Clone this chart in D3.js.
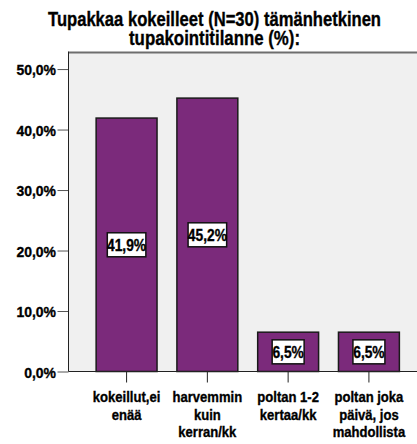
<!DOCTYPE html>
<html>
<head>
<meta charset="utf-8">
<script src="https://cdn.jsdelivr.net/npm/d3@7"></script>
<style>
html,body{margin:0;padding:0;background:#fff;}
svg{display:block;}
text{font-family:"Liberation Sans",Arial,sans-serif;font-weight:bold;fill:#000;stroke:#000;stroke-width:0.35px;}
</style>
</head>
<body>
<svg id="chart" width="417" height="444"></svg>
<script>
const titleLines = ["Tupakkaa kokeilleet (N=30) tämänhetkinen", "tupakointitilanne (%):"];
const categories = ["kokeillut,ei enää", "harvemmin kuin kerran/kk", "poltan 1-2 kertaa/kk", "poltan joka päivä, jos mahdollista"];
const categoryLines = [["kokeillut,ei", "enää"], ["harvemmin", "kuin", "kerran/kk"], ["poltan 1-2", "kertaa/kk"], ["poltan joka", "päivä, jos", "mahdollista"]];
const values = [41.9, 45.2, 6.5, 6.5];
const valueLabels = ["41,9%", "45,2%", "6,5%", "6,5%"];
const yTicks = [0, 10, 20, 30, 40, 50];
const yTickLabels = ["0,0%", "10,0%", "20,0%", "30,0%", "40,0%", "50,0%"];

const svg = d3.select("#chart");
const pLeft = 68.5, pRight = 427, pTop = 52.5, pBottom = 371.5;
const barColor = "#7b2a7b";
const titleWidths = [333, 171];

function condense(sel, f) {
  sel.each(function () {
    const w = this.getComputedTextLength();
    d3.select(this).attr("textLength", w * f).attr("lengthAdjust", "spacingAndGlyphs");
  });
}

const x = d3.scaleBand().domain(categories).range([pLeft, pRight]).paddingInner(0.246).paddingOuter(0.342);
const y = d3.scaleLinear().domain([0, 52.74]).range([pBottom, pTop]);

// plot background
svg.append("rect").attr("x", pLeft).attr("y", pTop).attr("width", pRight - pLeft).attr("height", pBottom - pTop).attr("fill", "#f0f0f0");
svg.append("line").attr("x1", pLeft).attr("x2", pRight).attr("y1", pTop).attr("y2", pTop).attr("stroke", "#6e6e6e").attr("stroke-width", 2);

// title
svg.append("g").selectAll("text").data(titleLines).join("text")
  .attr("x", 214.5).attr("y", (d, i) => 25.5 + i * 19.5)
  .attr("text-anchor", "middle").attr("font-size", 19.5)
  .attr("textLength", (d, i) => titleWidths[i]).attr("lengthAdjust", "spacingAndGlyphs")
  .text(d => d);

// bars
svg.append("g").selectAll("rect").data(values).join("rect")
  .attr("x", (d, i) => x(categories[i]))
  .attr("y", d => y(d))
  .attr("width", x.bandwidth())
  .attr("height", d => y(0) - y(d))
  .attr("fill", barColor).attr("stroke", "#1a1a1a").attr("stroke-width", 1.5);

// y axis
const yAxis = svg.append("g").attr("transform", `translate(${pLeft},0)`)
  .call(d3.axisLeft(y).tickValues(yTicks).tickSize(11).tickPadding(1.5).tickFormat((d, i) => yTickLabels[i]));
yAxis.select(".domain").remove();
yAxis.selectAll(".tick line").attr("stroke", "#555");
yAxis.selectAll(".tick text").attr("font-size", 15.5).attr("fill", "#000").attr("dy", "0.36em");
yAxis.attr("font-family", null).attr("font-size", null);
condense(yAxis.selectAll(".tick text"), 0.9);
svg.append("line").attr("x1", pLeft).attr("x2", pLeft).attr("y1", pTop - 1).attr("y2", pBottom).attr("stroke", "#222").attr("stroke-width", 1);

// x axis
const xAxis = svg.append("g").attr("transform", `translate(0,${pBottom})`)
  .call(d3.axisBottom(x).tickSize(11).tickFormat(""));
xAxis.select(".domain").remove();
xAxis.selectAll(".tick line").attr("stroke", "#222");
svg.append("line").attr("x1", pLeft).attr("x2", pRight).attr("y1", pBottom).attr("y2", pBottom).attr("stroke", "#222").attr("stroke-width", 1);

// category labels
const cg = svg.append("g");
categories.forEach((c, i) => {
  const cx = x(c) + x.bandwidth() / 2;
  const t = cg.selectAll(null).data(categoryLines[i]).join("text")
    .attr("x", cx).attr("y", (d, j) => 402 + j * 17.5)
    .attr("text-anchor", "middle").attr("font-size", 15).text(d => d);
  condense(t, 0.87);
});

// value labels
const vg = svg.append("g");
values.forEach((v, i) => {
  const cx = x(categories[i]) + x.bandwidth() / 2;
  const cy = (y(v) + y(0)) / 2;
  const g = vg.append("g");
  const t = g.append("text").attr("x", cx).attr("y", cy).attr("dy", "0.36em")
    .attr("text-anchor", "middle").attr("font-size", 16).text(valueLabels[i]);
  condense(t, 0.86);
  const w = t.node().getComputedTextLength() * 0.86;
  g.insert("rect", "text").attr("x", cx - w / 2 - 2.5).attr("y", cy - 12).attr("width", w + 5).attr("height", 24)
    .attr("fill", "#fff").attr("stroke", "#111").attr("stroke-width", 1.5);
});
</script>
</body>
</html>
